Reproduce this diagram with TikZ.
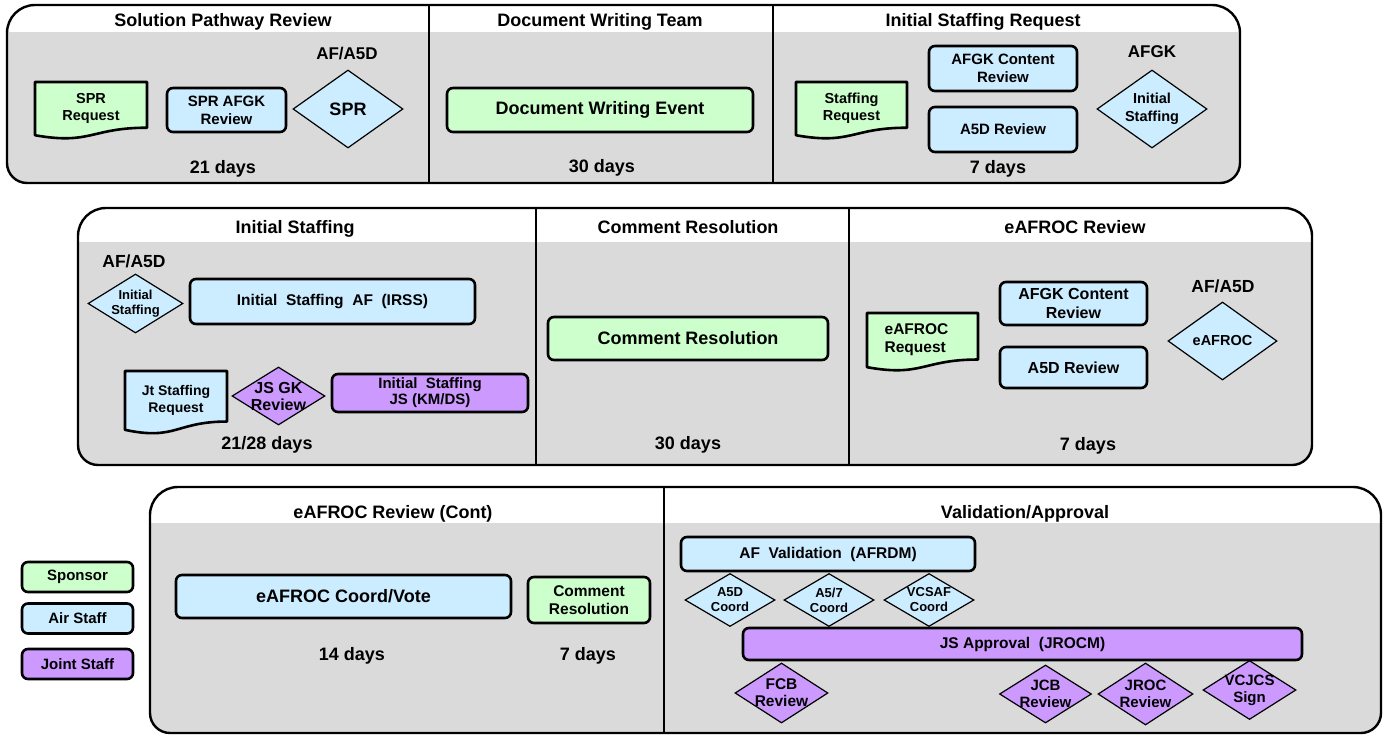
\documentclass[tikz,border=0pt]{standalone}
\usepackage{fontspec}
\setmainfont{Liberation Sans}
\usetikzlibrary{shapes.geometric}

\definecolor{sponsorgreen}{HTML}{CCFFCC}
\definecolor{airblue}{HTML}{CCECFF}
\definecolor{jointpurple}{HTML}{CC99FF}
\definecolor{panelgray}{HTML}{DADADA}

% bold text at a given size and line spacing
\newcommand\fsz[2]{\fontsize{#1}{#2}\selectfont\bfseries}

% one row of phases: white title band over a grey body, mixed corner radii
% #1 x-left, #2 y-top, #3 x-right, #4 y-bottom, #5 y of the band's lower edge
\newcommand\rowpanel[5]{%
  \begin{scope}
    \clip (#1,{(#2+#4)/2}) [rounded corners=28pt] -- (#1,#2) -- (#3,#2)
      -- (#3,{(#2+#4)/2}) [rounded corners=20pt] -- (#3,#4) -- (#1,#4) -- cycle;
    \fill[white] (#1,#2) rectangle (#3,#5);
    \fill[panelgray] (#1,#5) rectangle (#3,#4);
  \end{scope}
  \draw[panelline] (#1,{(#2+#4)/2}) [rounded corners=28pt] -- (#1,#2) -- (#3,#2)
      -- (#3,{(#2+#4)/2}) [rounded corners=20pt] -- (#3,#4) -- (#1,#4) -- cycle;
}

% flowchart "document" outline with its text node
% #1 name, #2 x-left, #3 y-top, #4 x-right, #5 height, #6 fill, #7 node options, #8 text
\newcommand\docshape[8]{%
  \draw[docline, fill=#6] (#2,#3) -- (#4,#3) -- (#4,{#3+0.802*#5})
    .. controls ({(#2+#4)/2},{#3+0.802*#5}) and ({(#2+#4)/2},{#3+1.107*#5}) .. (#2,{#3+0.934*#5}) -- cycle;
  \node[doctext, #7] (#1) at ({(#2+#4)/2},{#3+0.46*#5}) {#8};
}

\tikzset{
  panelline/.style={draw=black, line width=2.4pt},
  divline/.style={draw=black, line width=2pt},
  docline/.style={draw=black, line width=2.6pt, line join=round},
  doctext/.style={inner sep=0pt, align=center},
  box/.style={draw=black, line width=2.6pt, rounded corners=6pt, inner sep=0pt, align=center},
  dia/.style={diamond, draw=black, line width=1.2pt, inner sep=0pt},
  lbl/.style={anchor=base, inner sep=0pt},
  title/.style={lbl, font=\fsz{18}{21}},
  days/.style={lbl, font=\fsz{18}{21}},
}

\begin{document}
\begin{tikzpicture}[x=1pt,y=-1pt]
\useasboundingbox (0,0) rectangle (1389,736);
\fill[white] (0,0) rectangle (1389,736);

%% ---------------- row 1 ----------------
\rowpanel{7}{5}{1240}{183}{32}
\draw[divline] (429,5) -- (429,183);
\draw[divline] (773,5) -- (773,183);

\node[title] (t-spr) at (223,27) {Solution Pathway Review};
\node[title] (t-dwt) at (600,27) {Document Writing Team};
\node[title] (t-isr) at (983,27) {Initial Staffing Request};

% Solution Pathway Review
\docshape{spr-req}{35}{82}{147}{57}{sponsorgreen}{font=\fsz{14.5}{17}}{SPR\\Request}
\node[box, fill=airblue, minimum width=119, minimum height=44, font=\fsz{15}{18}] (spr-afgk) at (226.5,110) {SPR AFGK\\Review};
\node[lbl, font=\fsz{17}{20}] (spr-org) at (347,59) {AF/A5D};
\node[dia, fill=airblue, minimum width=110, minimum height=78, label={[font=\fsz{18}{21}]center:SPR}] (spr-d) at (348,109) {};
\node[days] (spr-days) at (223,173) {21 days};

% Document Writing Team
\node[box, fill=sponsorgreen, minimum width=306, minimum height=44, font=\fsz{18}{21}] (dwe) at (600,110) {Document Writing Event};
\node[days] (dwt-days) at (602,172) {30 days};

% Initial Staffing Request
\docshape{isr-req}{796}{82}{907}{57}{sponsorgreen}{font=\fsz{14.5}{17}}{Staffing\\Request}
\node[box, fill=airblue, minimum width=148, minimum height=45, font=\fsz{15}{18}] (isr-afgk) at (1003,68.5) {AFGK Content\\Review};
\node[box, fill=airblue, minimum width=148, minimum height=45, font=\fsz{15}{18}] (isr-a5d) at (1003,129.5) {A5D Review};
\node[lbl, font=\fsz{17}{20}] (isr-org) at (1152,57) {AFGK};
\node[dia, fill=airblue, minimum width=110, minimum height=78, label={[font=\fsz{14.5}{18}, align=center]center:Initial\\Staffing}] (isr-d) at (1152,109) {};
\node[days] (isr-days) at (998,173) {7 days};

%% ---------------- row 2 ----------------
\rowpanel{78}{208}{1312}{465}{242}
\draw[divline] (536,208) -- (536,465);
\draw[divline] (849,208) -- (849,465);

\node[title] (t-is) at (295,233) {Initial Staffing};
\node[title] (t-cr) at (688,233) {Comment Resolution};
\node[title] (t-er) at (1075,233) {eAFROC Review};

% Initial Staffing
\node[lbl, font=\fsz{17.5}{20}] (is-org) at (134,267) {AF/A5D};
\node[dia, fill=airblue, minimum width=95, minimum height=59, label={[font=\fsz{13}{15}, align=center]center:Initial\\Staffing}] (is-d) at (135.5,303.5) {};
\node[box, fill=airblue, minimum width=285, minimum height=45, font=\fsz{15.5}{18}] (is-af) at (332.5,301.5) {Initial~ Staffing~ AF~ (IRSS)};
\docshape{jt-req}{125}{371}{227}{63}{airblue}{font=\fsz{14}{17}}{Jt Staffing\\Request}
\node[dia, fill=jointpurple, minimum width=93, minimum height=58, label={[font=\fsz{16}{17}, align=center]center:JS GK\\Review}] (jsgk-d) at (278.5,396) {};
\node[box, fill=jointpurple, minimum width=196, minimum height=38, font=\fsz{15}{16}] (is-js) at (430,393) {Initial~ Staffing\\JS (KM/DS)};
\node[days] (is-days) at (267,449) {21/28 days};

% Comment Resolution
\node[box, fill=sponsorgreen, minimum width=280, minimum height=43, font=\fsz{18}{21}] (cr) at (688,338.5) {Comment Resolution};
\node[days] (cr-days) at (688,449) {30 days};

% eAFROC Review
\docshape{er-req}{867}{313}{978}{58}{sponsorgreen}{font=\fsz{15.5}{18}, align=left, xshift=-6pt}{eAFROC\\Request}
\node[box, fill=airblue, minimum width=147, minimum height=43, font=\fsz{16}{19}] (er-afgk) at (1073.5,303.5) {AFGK Content\\Review};
\node[box, fill=airblue, minimum width=147, minimum height=41, font=\fsz{16}{19}] (er-a5d) at (1073.5,367.5) {A5D Review};
\node[lbl, font=\fsz{17.5}{20}] (er-org) at (1223,292) {AF/A5D};
\node[dia, fill=airblue, minimum width=109, minimum height=78, label={[font=\fsz{14.5}{17}]center:eAFROC}] (er-d) at (1222.5,341) {};
\node[days] (er-days) at (1088,450) {7 days};

%% ---------------- row 3 ----------------
\rowpanel{150}{487}{1381}{733}{523}
\draw[divline] (664,487) -- (664,733);

\node[title] (t-erc) at (393,518) {eAFROC Review (Cont)};
\node[title] (t-va) at (1025,518) {Validation/Approval};

% eAFROC Review (Cont)
\node[box, fill=airblue, minimum width=335, minimum height=43, font=\fsz{18}{21}] (coord) at (343.5,596.5) {eAFROC Coord/Vote};
\node[box, fill=sponsorgreen, minimum width=122, minimum height=46, font=\fsz{15.5}{18}] (cr2) at (589,600) {Comment\\Resolution};
\node[days] (coord-days) at (352,660) {14 days};
\node[days] (cr2-days) at (588,660) {7 days};

% Validation/Approval
\node[box, fill=airblue, minimum width=294, minimum height=34, font=\fsz{15.5}{18}] (afv) at (828,554) {AF~ Validation~ (AFRDM)};
\node[dia, fill=airblue, minimum width=90, minimum height=53, label={[font=\fsz{13}{15}, align=center]center:A5D\\Coord}] (a5d-d) at (730,600) {};
\node[dia, fill=airblue, minimum width=90, minimum height=53, label={[font=\fsz{13}{15}, align=center]center:A5/7\\Coord}] (a57-d) at (829,600) {};
\node[dia, fill=airblue, minimum width=90, minimum height=53, label={[font=\fsz{13}{15}, align=center]center:VCSAF\\Coord}] (vcsaf-d) at (929,600) {};
\node[box, fill=jointpurple, minimum width=559, minimum height=32, font=\fsz{15.5}{18}] (jsa) at (1022.5,644) {JS Approval~ (JROCM)};
\node[dia, fill=jointpurple, minimum width=93, minimum height=60, label={[font=\fsz{15.5}{17}, align=center]center:FCB\\Review}] (fcb-d) at (781.5,693) {};
\node[dia, fill=jointpurple, minimum width=92, minimum height=58, label={[font=\fsz{15}{17}, align=center]center:JCB\\Review}] (jcb-d) at (1045.5,694) {};
\node[dia, fill=jointpurple, minimum width=95, minimum height=62, label={[font=\fsz{15}{17}, align=center]center:JROC\\Review}] (jroc-d) at (1145.5,694) {};
\node[dia, fill=jointpurple, minimum width=93, minimum height=59, label={[font=\fsz{15}{17}, align=center]center:VCJCS\\Sign}] (vcjcs-d) at (1249.5,690) {};

%% ---------------- legend ----------------
\node[box, fill=sponsorgreen, minimum width=111, minimum height=30, font=\fsz{15}{18}] (key-sponsor) at (77.5,577) {Sponsor};
\node[box, fill=airblue, minimum width=111, minimum height=30, font=\fsz{15}{18}] (key-air) at (77.5,618.5) {Air Staff};
\node[box, fill=jointpurple, minimum width=111, minimum height=30, font=\fsz{15}{18}] (key-joint) at (77.5,664) {Joint Staff};
\end{tikzpicture}
\end{document}
